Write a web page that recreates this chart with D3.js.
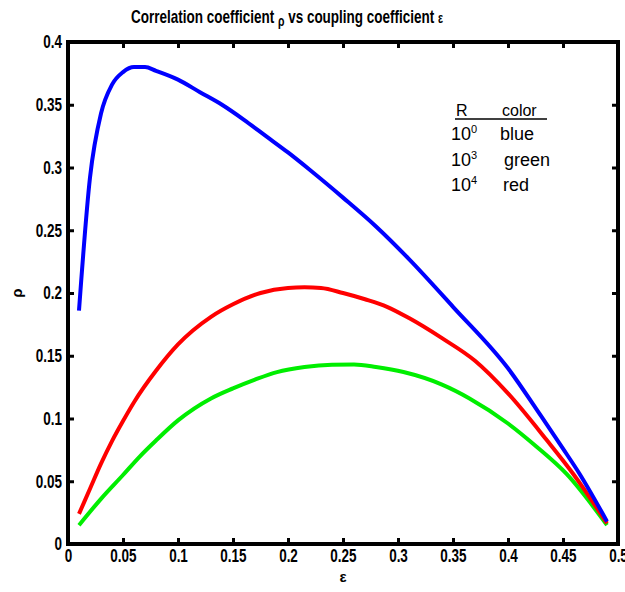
<!DOCTYPE html>
<html>
<head>
<meta charset="utf-8">
<script src="https://cdnjs.cloudflare.com/ajax/libs/d3/7.8.5/d3.min.js"></script>
<style>
  body { margin: 0; background: #fff; }
  svg text { font-family: "Liberation Sans", Arial, sans-serif; font-weight: bold; }
  .legend text { font-weight: normal; }
</style>
</head>
<body>
<svg width="625" height="592"></svg>
<script>
// epsilon / rho pairs
var blueEps = [0.01, 0.02, 0.03, 0.04, 0.05, 0.06, 0.07, 0.08, 0.10, 0.12, 0.14, 0.16, 0.18, 0.20, 0.22, 0.25, 0.28, 0.31, 0.35, 0.40, 0.43, 0.45, 0.465, 0.49];
var blueRho = [0.186, 0.292, 0.343, 0.366, 0.376, 0.380, 0.380, 0.377, 0.370, 0.360, 0.350, 0.338, 0.325, 0.312, 0.298, 0.276, 0.253, 0.227, 0.189, 0.140, 0.102, 0.076, 0.056, 0.018];

var redEps = [0.01, 0.02, 0.03, 0.04, 0.05, 0.06, 0.08, 0.10, 0.13, 0.15, 0.175, 0.20, 0.215, 0.23, 0.25, 0.27, 0.29, 0.31, 0.34, 0.37, 0.40, 0.435, 0.46, 0.49];
var redRho = [0.024, 0.044, 0.064, 0.082, 0.098, 0.113, 0.138, 0.159, 0.181, 0.191, 0.200, 0.204, 0.2045, 0.204, 0.200, 0.195, 0.189, 0.180, 0.164, 0.146, 0.120, 0.083, 0.055, 0.0165];

var greenEps = [0.01, 0.03, 0.05, 0.065, 0.08, 0.10, 0.13, 0.15, 0.17, 0.19, 0.215, 0.24, 0.26, 0.28, 0.305, 0.34, 0.365, 0.40, 0.426, 0.453, 0.49];
var greenRho = [0.015, 0.036, 0.055, 0.0695, 0.0825, 0.0985, 0.116, 0.124, 0.131, 0.137, 0.141, 0.1428, 0.143, 0.141, 0.137, 0.127, 0.116, 0.096, 0.0775, 0.056, 0.015];

var xTicks = [0, 0.05, 0.1, 0.15, 0.2, 0.25, 0.3, 0.35, 0.4, 0.45, 0.5];
var yTicks = [0, 0.05, 0.1, 0.15, 0.2, 0.25, 0.3, 0.35, 0.4];

var legendRows = [["0", "blue"], ["3", "green"], ["4", "red"]];

var svg = d3.select("svg");
var pLeft = 68, pRight = 618, pTop = 42, pBottom = 544;
var narrow = "scale(0.75,1)";   // fake a condensed bold face

var x = d3.scaleLinear().domain([0, 0.5]).range([pLeft, pRight]);
var y = d3.scaleLinear().domain([0, 0.4]).range([pBottom, pTop]);

var fmt = function(d) { return d === 0 ? "0" : String(d); };

// axes, MATLAB style box with inward ticks
function styleAxis(g) {
  g.selectAll(".domain").remove();
  g.selectAll(".tick line").attr("stroke", "#000").attr("stroke-width", 3);
  g.selectAll(".tick text").attr("fill", "#000").style("font-size", "18px").attr("transform", narrow);
}

svg.append("g").attr("transform", "translate(0," + pBottom + ")")
  .call(d3.axisBottom(x).tickValues(xTicks).tickFormat(fmt).tickSizeInner(-6).tickSizeOuter(0).tickPadding(5))
  .call(styleAxis);
svg.append("g").attr("transform", "translate(0," + pTop + ")")
  .call(d3.axisTop(x).tickValues(xTicks).tickFormat("").tickSizeInner(-6).tickSizeOuter(0))
  .call(styleAxis);
svg.append("g").attr("transform", "translate(" + pLeft + ",0)")
  .call(d3.axisLeft(y).tickValues(yTicks).tickFormat(fmt).tickSizeInner(-6).tickSizeOuter(0).tickPadding(8))
  .call(styleAxis);
svg.append("g").attr("transform", "translate(" + pRight + ",0)")
  .call(d3.axisRight(y).tickValues(yTicks).tickFormat("").tickSizeInner(-6).tickSizeOuter(0))
  .call(styleAxis);

svg.append("rect")
  .attr("x", pLeft).attr("y", pTop)
  .attr("width", pRight - pLeft).attr("height", pBottom - pTop)
  .attr("fill", "none").attr("stroke", "#000").attr("stroke-width", 4);

// curves
var line = d3.line()
  .x(function(d) { return x(d[0]); })
  .y(function(d) { return y(d[1]); })
  .curve(d3.curveMonotoneX);

var series = [
  { eps: greenEps, rho: greenRho, color: "#00ee00" },
  { eps: redEps, rho: redRho, color: "#ff0000" },
  { eps: blueEps, rho: blueRho, color: "#0000ff" }
];

series.forEach(function(s) {
  svg.append("path")
    .datum(d3.zip(s.eps, s.rho))
    .attr("d", line)
    .attr("fill", "none")
    .attr("stroke", s.color)
    .attr("stroke-width", 4)
    .attr("stroke-linejoin", "round");
});

// title and axis labels
var title = svg.append("g").attr("transform", "translate(287,23) " + narrow)
  .append("text")
  .attr("text-anchor", "middle")
  .style("font-size", "18px");
title.append("tspan").text("Correlation coefficient ");
title.append("tspan").attr("dy", 3).style("font-size", "14px").text("ρ");
title.append("tspan").attr("dy", -3).text(" vs coupling coefficient ");
title.append("tspan").style("font-size", "14px").text("ε");

svg.append("text")
  .attr("x", 343).attr("y", 582)
  .attr("text-anchor", "middle")
  .style("font-size", "15px")
  .text("ε");

svg.append("text")
  .attr("transform", "translate(22,293) rotate(-90)")
  .attr("text-anchor", "middle")
  .style("font-size", "15px")
  .text("ρ");

// legend table
var lg = svg.append("g").attr("class", "legend");
lg.append("text").attr("x", 456).attr("y", 116).style("font-size", "16px").text("R");
lg.append("text").attr("x", 502).attr("y", 116).style("font-size", "16px").text("color");
lg.append("line")
  .attr("x1", 455).attr("x2", 547).attr("y1", 119).attr("y2", 119)
  .attr("stroke", "#000").attr("stroke-width", 1.5);

legendRows.forEach(function(r, i) {
  var yy = 140 + i * 25.5;
  var t = lg.append("text").attr("x", 451).attr("y", yy).style("font-size", "18px");
  t.append("tspan").text("10");
  t.append("tspan").attr("dy", -7).style("font-size", "11px").text(r[0]);
  lg.append("text").attr("x", i === 0 ? 500 : (i === 1 ? 504 : 503)).attr("y", yy)
    .style("font-size", "18px").text(r[1]);
});
</script>
</body>
</html>
